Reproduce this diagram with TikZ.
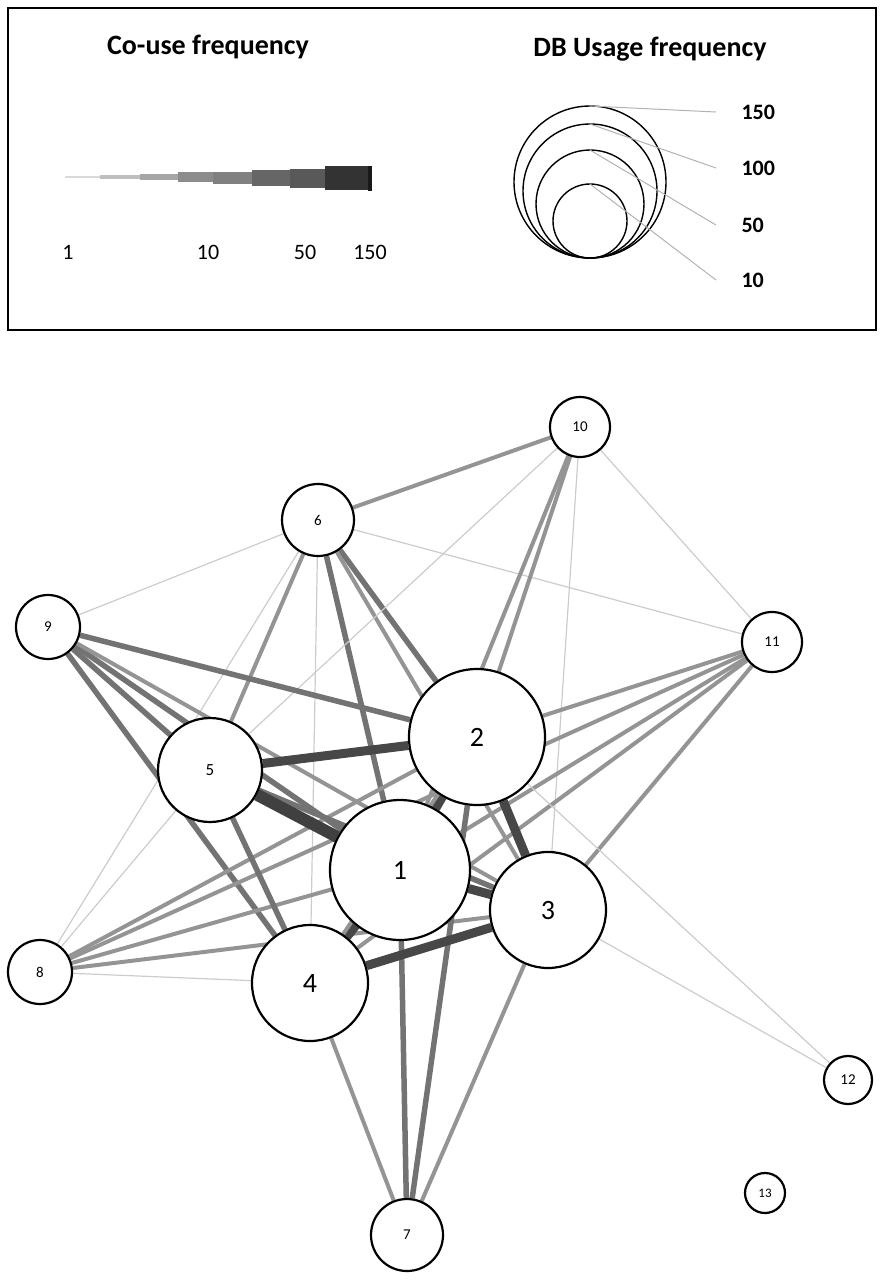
\documentclass[tikz,border=0pt]{standalone}
\usepackage{fontspec}
\setmainfont{Carlito}
\pgfdeclarelayer{bg}\pgfsetlayers{bg,main}
\begin{document}
\begin{tikzpicture}[x=1pt,y=-1pt,
  nd/.style={circle,draw=black,line width=2.2pt,fill=white,inner sep=0pt},
  e1/.style={line width=1.2pt,draw=black!20},
  e2/.style={line width=4pt,draw=black!42},
  e3/.style={line width=5.5pt,draw=black!55},
  e4/.style={line width=9pt,draw=black!72},
  e5/.style={line width=12pt,draw=black!75},
  lead/.style={line width=1pt,draw=black!30}]
\useasboundingbox (0,0) rectangle (885,1280);
\draw[line width=1.3pt] (8,8) rectangle (876,330);
\node[font=\bfseries\fontsize{28}{30}\selectfont] (t1) at (208,47) {Co-use frequency};
\node[font=\bfseries\fontsize{28}{30}\selectfont] (t2) at (650,49) {DB Usage frequency};
% co-use bar
\fill[black!15] (65,176) rectangle (100,178);
\fill[black!25] (100,175) rectangle (140,179);
\fill[black!35] (140,174) rectangle (178,180);
\fill[black!45] (178,172) rectangle (213,182);
\fill[black!50] (213,172) rectangle (252,184);
\fill[black!60] (252,170) rectangle (290,186);
\fill[black!65] (290,169) rectangle (325,188);
\fill[black!80] (325,166) rectangle (368,190);
\fill[black!90] (368,166) rectangle (372,191);
\foreach \x/\t in {68/1,208/10,305/50,370/150}
  \node[font=\fontsize{22}{24}\selectfont] (c\t) at (\x,252) {\t};
% usage circles
\foreach \r/\t/\ly in {76/150/112,67/100/168,54/50/225,37/10/280}{
  \draw[line width=1.4pt] (590,258-\r) circle (\r);
  \coordinate (l\t) at (716,\ly);
  \draw[lead] (590,258-2*\r) -- (l\t);
  \node[font=\bfseries\fontsize{22}{24}\selectfont,anchor=west] (u\t) at (738,\ly) {\t};
}
% nodes
\node[nd,minimum size=140pt] (n1) at (400,870) {};
\node[nd,minimum size=136pt] (n2) at (477,737) {};
\node[nd,minimum size=116pt] (n3) at (548,910) {};
\node[nd,minimum size=116pt] (n4) at (310,983) {};
\node[nd,minimum size=104pt] (n5) at (210,770) {};
\node[nd,minimum size=72pt] (n6) at (318,520) {};
\node[nd,minimum size=72pt] (n7) at (407,1235) {};
\node[nd,minimum size=64pt] (n8) at (40,972) {};
\node[nd,minimum size=64pt] (n9) at (48,627) {};
\node[nd,minimum size=60pt] (n10) at (580,427) {};
\node[nd,minimum size=60pt] (n11) at (772,642) {};
\node[nd,minimum size=48pt] (n12) at (848,1080) {};
\node[nd,minimum size=40pt] (n13) at (765,1193) {};
\begin{pgfonlayer}{bg}
\draw[e1] (n6)--(n9); \draw[e1] (n6)--(n11); \draw[e1] (n6)--(n8);
\draw[e2] (n6)--(n10); \draw[e3] (n6)--(n2); \draw[e3] (n6)--(n1);
\draw[e2] (n6)--(n3); \draw[e2] (n6)--(n5); \draw[e1] (n6)--(n4);
\draw[e2] (n10)--(n2); \draw[e2] (n10)--(n1); \draw[e1] (n10)--(n11);
\draw[e1] (n10)--(n5); \draw[e1] (n10)--(n3);
\draw[e3] (n9)--(n2); \draw[e3] (n9)--(n1); \draw[e2] (n9)--(n3);
\draw[e3] (n9)--(n4); \draw[e3] (n9)--(n5);
\draw[e2] (n11)--(n2); \draw[e2] (n11)--(n1); \draw[e2] (n11)--(n4);
\draw[e2] (n11)--(n8); \draw[e2] (n11)--(n3);
\draw[e2] (n8)--(n1); \draw[e2] (n8)--(n2); \draw[e2] (n8)--(n3);
\draw[e1] (n8)--(n4); \draw[e1] (n8)--(n5);
\draw[e3] (n7)--(n1); \draw[e3] (n7)--(n2); \draw[e2] (n7)--(n3); \draw[e2] (n7)--(n4);
\draw[e1] (n12)--(n3); \draw[e1] (n12)--(n2);
\draw[e3] (n5)--(n4); \draw[e3] (n5)--(n3);
\draw[e4] (n5)--(n2); \draw[e5] (n5)--(n1);
\draw[e4] (n2)--(n3); \draw[e4] (n1)--(n3); \draw[e4] (n4)--(n3);
\draw[e4] (n1)--(n4); \draw[e4] (n1)--(n2); \draw[e2] (n2)--(n4);
\end{pgfonlayer}
\foreach \n/\s in {1/28,2/28,3/28,4/28,5/17,6/15,7/15,8/15,9/15,10/15,11/15,12/15,13/13}
  \node[font=\fontsize{\s}{\s}\selectfont] (lab\n) at (n\n) {\n};
\end{tikzpicture}
\end{document}
